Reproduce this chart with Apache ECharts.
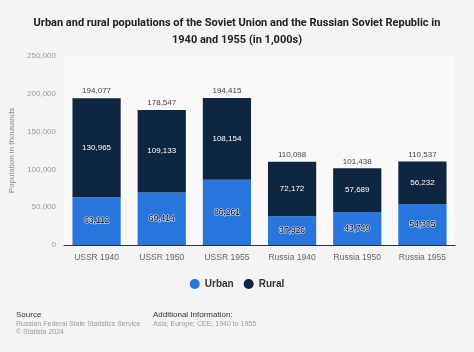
<!DOCTYPE html>
<html>
<head>
<meta charset="utf-8">
<script src="https://cdn.jsdelivr.net/npm/echarts@6/dist/echarts.min.js"></script>
<style>
  html, body { margin: 0; padding: 0; background: #f4f4f4; }
  #chart { width: 474px; height: 352px; }
</style>
</head>
<body>
<div id="chart"></div>
<script>
const categories = ['USSR 1940', 'USSR 1950', 'USSR 1955', 'Russia 1940', 'Russia 1950', 'Russia 1955'];
const urban = [63112, 69414, 86261, 37926, 43749, 54305];
const rural = [130965, 109133, 108154, 72172, 57689, 56232];
const yTicks = [0, 50000, 100000, 150000, 200000, 250000];

const totals = urban.map((u, i) => u + rural[i]);
const fmt = v => v.toLocaleString('en-US');
const font = '"Liberation Sans", Arial, sans-serif';

const chart = echarts.init(document.getElementById('chart'));
chart.setOption({
  backgroundColor: '#f4f4f4',
  textStyle: { fontFamily: font },
  title: {
    text: 'Urban and rural populations of the Soviet Union and the Russian Soviet Republic in\n1940 and 1955 (in 1,000s)',
    left: 'center',
    top: 10,
    textStyle: { fontSize: 11, fontWeight: 'bold', color: '#222', lineHeight: 17, fontFamily: 'Roboto, sans-serif' }
  },
  legend: {
    data: ['Urban', 'Rural'],
    bottom: 58,
    left: 'center',
    icon: 'circle',
    itemWidth: 10,
    itemHeight: 10,
    itemGap: 10,
    textStyle: { fontSize: 10, fontWeight: 'bold', color: '#333' }
  },
  grid: { left: 64, right: 19, top: 56, bottom: 107 },
  xAxis: {
    type: 'category',
    data: categories,
    axisLine: { lineStyle: { color: '#333', width: 1 } },
    axisTick: { show: false },
    axisLabel: { color: '#666', fontSize: 8.5, margin: 8 },
    splitArea: { show: true, areaStyle: { color: ['#f8f8f8', '#f9f9f9'] } }
  },
  yAxis: {
    type: 'value',
    min: 0,
    max: yTicks[yTicks.length - 1],
    interval: yTicks[1] - yTicks[0],
    name: 'Population in thousands',
    nameLocation: 'middle',
    nameGap: 42,
    nameTextStyle: { color: '#888', fontSize: 8 },
    axisLine: { show: false },
    axisTick: { show: false },
    axisLabel: { color: '#999', fontSize: 8, formatter: v => fmt(v) },
    splitLine: { lineStyle: { color: '#e6e6e6' } }
  },
  series: [
    {
      name: 'Urban',
      type: 'bar',
      stack: 'pop',
      data: urban,
      barWidth: '74%',
      itemStyle: { color: '#2876dd' },
      label: {
        show: true,
        position: 'inside',
        formatter: p => fmt(p.value),
        color: '#000',
        fontSize: 8.5,
        textBorderColor: 'rgba(255,255,255,0.8)',
        textBorderWidth: 1.2
      }
    },
    {
      name: 'Rural',
      type: 'bar',
      stack: 'pop',
      data: rural,
      itemStyle: { color: '#0f2640' },
      label: {
        show: true,
        position: 'inside',
        formatter: p => fmt(p.value),
        color: '#fff',
        fontSize: 8
      }
    },
    {
      name: 'Total',
      type: 'bar',
      stack: 'pop',
      data: totals.map(() => 0),
      itemStyle: { color: 'transparent' },
      label: {
        show: true,
        position: 'top',
        distance: 3,
        formatter: p => fmt(totals[p.dataIndex]),
        color: '#444',
        fontSize: 8
      }
    }
  ],
  graphic: [
    { type: 'text', left: 16, top: 311, style: { text: 'Source', fontSize: 8, fill: '#333', fontFamily: font } },
    { type: 'text', left: 16, top: 321, style: { text: 'Russian Federal State Statistics Service', fontSize: 7, fill: '#999', fontFamily: font } },
    { type: 'text', left: 16, top: 329, style: { text: '\u00a9 Statista 2024', fontSize: 7, fill: '#999', fontFamily: font } },
    { type: 'text', left: 153, top: 311, style: { text: 'Additional Information:', fontSize: 8, fill: '#333', fontFamily: font } },
    { type: 'text', left: 153, top: 321, style: { text: 'Asia; Europe; CEE; 1940 to 1955', fontSize: 7, fill: '#999', fontFamily: font } }
  ]
});
</script>
</body>
</html>
